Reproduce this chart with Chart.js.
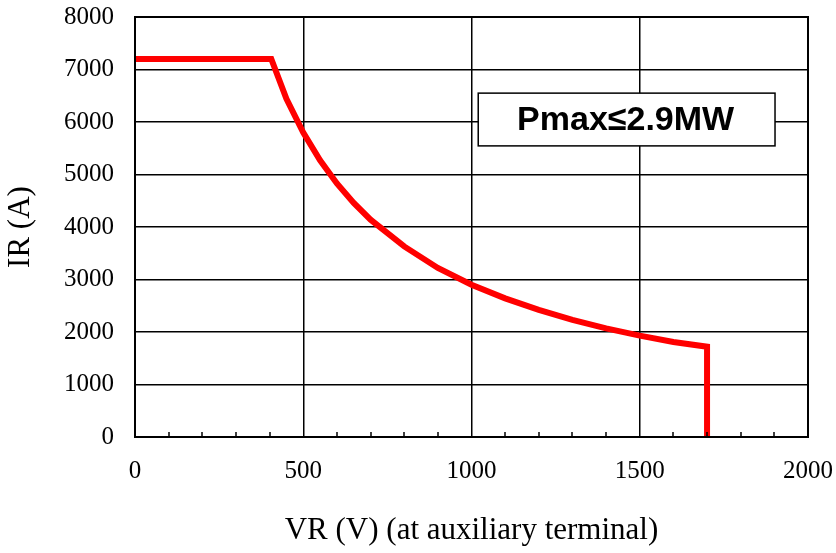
<!DOCTYPE html>
<html><head><meta charset="utf-8">
<script src="https://cdn.jsdelivr.net/npm/chart.js@4"></script>
<style>html,body{margin:0;padding:0;background:#fff}#w{width:836px;height:553px}</style>
</head><body><div id="w"><canvas id="c" width="836" height="553"></canvas></div>
<script>
const voltage = [0, 405, 450, 500, 550, 600, 650, 700, 800, 900, 1000, 1100, 1200, 1300, 1400, 1500, 1600, 1700, 1700];
const current = [7200, 7200, 6440, 5800, 5270, 4830, 4460, 4140, 3630, 3220, 2900, 2640, 2420, 2230, 2070, 1930, 1810, 1720, 0];
const xTicks = [0, 500, 1000, 1500, 2000];
const yTicks = [0, 1000, 2000, 3000, 4000, 5000, 6000, 7000, 8000];
const xMinorTicks = [100,200,300,400,600,700,800,900,1100,1200,1300,1400,1600,1700,1800,1900];
const annotationText = 'Pmax≤2.9MW';
const annotationBox = {x1: 1020, x2: 1902, y1: 6550, y2: 5545};

const points = voltage.map((v, i) => ({x: v, y: current[i]}));
const serif = '"Liberation Serif", "Times New Roman", serif';

const overlay = {
  id: 'overlay',
  afterDatasetsDraw(chart) {
    const {ctx, scales: {x, y}} = chart;
    ctx.save();
    ctx.strokeStyle = '#000'; ctx.lineWidth = 1.5;
    const yb = y.getPixelForValue(0);
    xMinorTicks.forEach(v => {
      const px = Math.round(x.getPixelForValue(v));
      ctx.beginPath(); ctx.moveTo(px, yb); ctx.lineTo(px, yb - 5); ctx.stroke();
    });
    const l = x.getPixelForValue(annotationBox.x1), r = x.getPixelForValue(annotationBox.x2);
    const t = y.getPixelForValue(annotationBox.y1), b = y.getPixelForValue(annotationBox.y2);
    ctx.fillStyle = '#fff'; ctx.fillRect(l, t, r - l, b - t);
    ctx.lineWidth = 1.5; ctx.strokeRect(l, t, r - l, b - t);
    ctx.fillStyle = '#000';
    ctx.font = 'bold 34px "Liberation Sans", Arial, sans-serif';
    ctx.textAlign = 'center'; ctx.textBaseline = 'middle';
    ctx.fillText(annotationText, (l + r) / 2 - 1, (t + b) / 2 + 1);
    const a = chart.chartArea;
    ctx.lineWidth = 2;
    ctx.strokeRect(a.left, a.top, a.right - a.left, a.bottom - a.top);
    ctx.restore();
  }
};

new Chart(document.getElementById('c'), {
  type: 'scatter',
  data: { datasets: [{ data: points, showLine: true, borderColor: '#ff0000', backgroundColor: '#ff0000', borderWidth: 6, pointRadius: 0, tension: 0, borderJoinStyle: 'miter' }] },
  options: {
    responsive: false, animation: false, devicePixelRatio: 1,
    layout: { padding: { top: 17, right: 28, left: 0, bottom: 0 } },
    plugins: { legend: { display: false }, tooltip: { enabled: false } },
    scales: {
      x: {
        type: 'linear', min: 0, max: 2000,
        afterBuildTicks: s => { s.ticks = xTicks.map(v => ({value: v})); },
        afterFit: s => { s.height = 116; s.paddingLeft = 0; s.paddingRight = 0; },
        grid: { color: '#000', lineWidth: 1.5, drawTicks: false },
        border: { color: '#000', width: 2 },
        ticks: { color: '#000', font: { family: serif, size: 25 }, padding: 19, maxRotation: 0, callback: v => String(v) },
        title: { display: true, text: 'VR (V) (at auxiliary terminal)', color: '#000', font: { family: serif, size: 31 }, padding: { top: 26 } }
      },
      y: {
        type: 'linear', min: 0, max: 8000,
        afterBuildTicks: s => { s.ticks = yTicks.map(v => ({value: v})); },
        afterFit: s => { s.width = 135; s.paddingTop = 0; s.paddingBottom = 0; },
        grid: { color: '#000', lineWidth: 1.5, drawTicks: false },
        border: { color: '#000', width: 2 },
        ticks: { color: '#000', font: { family: serif, size: 25 }, padding: 21, callback: v => String(v) },
        title: { display: true, text: 'IR (A)', color: '#000', font: { family: serif, size: 31 }, padding: { top: 2, bottom: 6 } }
      }
    }
  },
  plugins: [overlay]
});
</script></body></html>
